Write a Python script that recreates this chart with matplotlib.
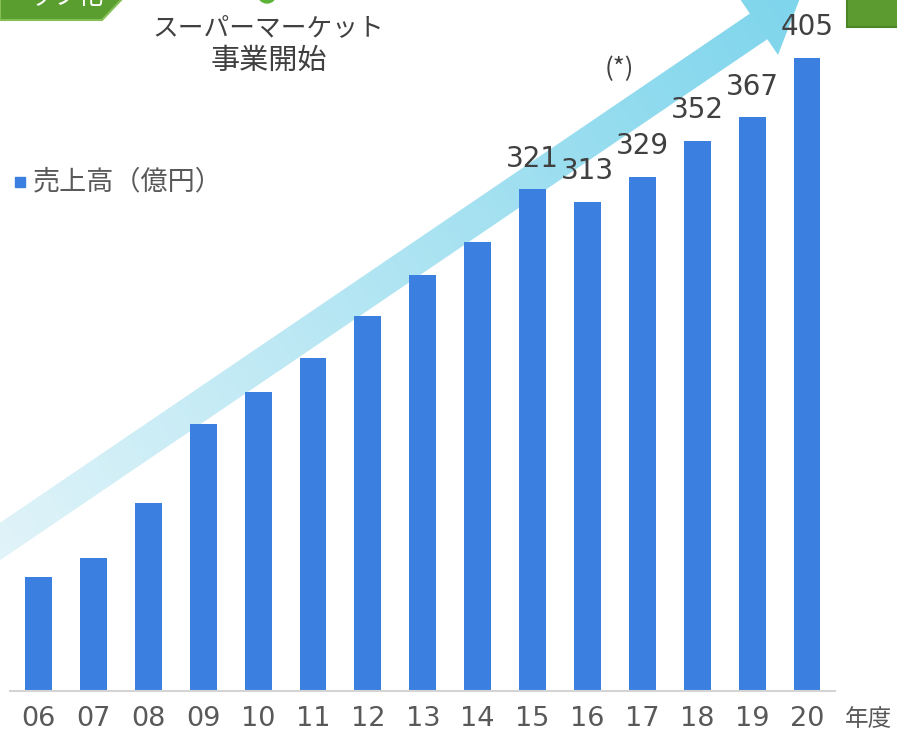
import numpy as np
import matplotlib
matplotlib.use("Agg")
import matplotlib.pyplot as plt
from matplotlib.patches import Polygon, Circle

plt.rcParams['font.family'] = ['DejaVu Sans', 'Noto Sans CJK JP']

# sales by fiscal year (100 million yen)
years = ['06', '07', '08', '09', '10', '11', '12', '13', '14',
         '15', '16', '17', '18', '19', '20']
sales = [73, 85, 120, 171, 191, 213, 240, 266, 287,
         321, 313, 329, 352, 367, 405]
labeled_from = '15'   # value labels start from this year

BAR = '#3b80e0'
TXT = '#404040'
JP = ['Noto Sans CJK JP', 'DejaVu Sans']

W, H = 897, 736
fig = plt.figure(figsize=(W / 100, H / 100), dpi=100)

# background layer in pixel units for the arrow and tags
bg = fig.add_axes([0, 0, 1, 1], zorder=0)
bg.set_xlim(0, W)
bg.set_ylim(H, 0)
bg.axis('off')

# gradient arrow rising to the right
d = np.array([0.827, -0.562])
n = np.array([0.562, 0.827])
start = np.array([-20.0, 555.1])
base = np.array([758.6, 26.4])
tip = base + 50 * d
shaft, head = 15.5, 34.5
pts = [start - shaft * n, base - shaft * n, base - head * n, tip,
       base + head * n, base + shaft * n, start + shaft * n]
arrow = Polygon(pts, closed=True, facecolor='none', edgecolor='none')
bg.add_patch(arrow)

gx, gy = np.meshgrid(np.arange(W), np.arange(H))
t = ((gx - start[0]) * d[0] + (gy - start[1]) * d[1]) / np.dot(tip - start, d)
t = np.clip(t, 0, 1)[..., None]
c0 = np.array([226, 244, 249]) / 255
c1 = np.array([126, 213, 236]) / 255
grad = c0 * (1 - t) + c1 * t
im = bg.imshow(grad, extent=(0, W, H, 0), aspect='auto', interpolation='bilinear')
im.set_clip_path(arrow)

# green header pieces along the top edge
bg.add_patch(Polygon([(0, -2), (123, -2), (102, 20), (0, 20)], closed=True,
                     facecolor='#5a9e30', edgecolor='#86bf55', lw=1.5))
bg.text(66, -3, 'ップ化', color='white', fontsize=18, family=JP,
        ha='center', va='center')
bg.add_patch(Circle((267, -6), 9, color='#5cb33a'))
bg.add_patch(Polygon([(847, -2), (900, -2), (900, 27), (847, 27)], closed=True,
                     facecolor='#5b9b30', edgecolor='#4a8526', lw=1.5))

bg.text(268, 28, 'スーパーマーケット', color=TXT, fontsize=18.5,
        family=JP, ha='center', va='center')
bg.text(269, 61, '事業開始', color=TXT, fontsize=21,
        family=JP, ha='center', va='center')
bg.text(619, 69, '(*)', color=TXT, fontsize=18.5, family=JP,
        ha='center', va='center')

# legend
bg.add_patch(Polygon([(15, 177), (25, 177), (25, 187), (15, 187)], closed=True,
                     color=BAR))
bg.text(33, 182, '売上高（億円）', color='#595959', fontsize=19.5,
        family=JP, ha='left', va='center')
bg.text(869, 720, '年度', color='#595959', fontsize=17,
        family=JP, ha='center', va='center')

# bar chart
ax = fig.add_axes([10 / W, 1 - 691 / H, 825 / W, 691 / H], zorder=1)
ax.patch.set_visible(False)
x = np.arange(len(years))
bars = ax.bar(x, sales, width=0.49, color=BAR, zorder=2)
ax.set_xlim(-0.52, 14.51)
ax.set_ylim(0, 442)
ax.set_xticks(x)
ax.set_xticklabels(years, fontsize=19.5, color='#595959')
ax.tick_params(axis='x', length=0, pad=11)
ax.set_yticks([])
for s in ['top', 'right', 'left']:
    ax.spines[s].set_visible(False)
ax.spines['bottom'].set_color('#d4d4d4')
ax.spines['bottom'].set_linewidth(1.5)

first = years.index(labeled_from)
for xi, v in zip(x[first:], sales[first:]):
    ax.annotate(str(v), (xi, v), xytext=(0, 22), textcoords='offset points',
                ha='center', va='center', fontsize=20, color=TXT)

fig.savefig('out.png', dpi=100)
